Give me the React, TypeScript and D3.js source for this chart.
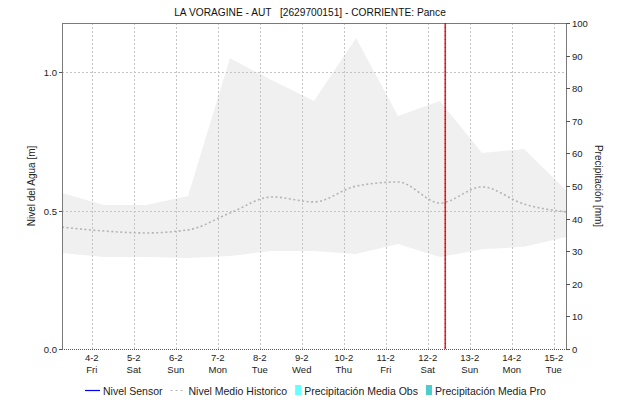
import React, { useEffect, useRef } from "react";
import * as d3 from "d3";

// Daily historical statistics (sampled at 07:00 each day)
const days = [
  "2022-02-03", "2022-02-04", "2022-02-05", "2022-02-06", "2022-02-07",
  "2022-02-08", "2022-02-09", "2022-02-10", "2022-02-11", "2022-02-12",
  "2022-02-13", "2022-02-14", "2022-02-15",
];
const nivelMaximo = [0.563, 0.52, 0.52, 0.552, 1.05, 0.97, 0.895, 1.123, 0.841, 0.895, 0.708, 0.722, 0.574];
const nivelMinimo = [0.347, 0.332, 0.332, 0.329, 0.336, 0.354, 0.354, 0.343, 0.379, 0.332, 0.36, 0.369, 0.404];
const nivelMedio = [0.44, 0.426, 0.419, 0.43, 0.491, 0.549, 0.531, 0.588, 0.603, 0.527, 0.585, 0.523, 0.495];

const tickDays = [
  "2022-02-04", "2022-02-05", "2022-02-06", "2022-02-07", "2022-02-08", "2022-02-09",
  "2022-02-10", "2022-02-11", "2022-02-12", "2022-02-13", "2022-02-14", "2022-02-15",
];
const levelTicks = [0, 0.5, 1.0];
const precipTicks = [0, 10, 20, 30, 40, 50, 60, 70, 80, 90, 100];
const ahora = "2022-02-12T10:00:00Z";

const title = "LA VORAGINE - AUT   [2629700151] - CORRIENTE: Pance";
const legendItems = [
  { label: "Nivel Sensor", kind: "line", color: "#0000ff" },
  { label: "Nivel Medio Historico", kind: "dots", color: "#b4b4b4" },
  { label: "Precipitación Media Obs", kind: "box", color: "#66ffff" },
  { label: "Precipitación Media Pro", kind: "box", color: "#4ccccc" },
];

const W = 618, H = 403;
const M = { left: 62, right: 566, top: 23, bottom: 349 };
const FONT = "'Liberation Sans', Arial, sans-serif";

export default function App() {
  const ref = useRef<SVGSVGElement | null>(null);

  useEffect(() => {
    const svg = d3.select(ref.current);
    svg.selectAll("*").remove();

    const t = (d: string) => new Date(d + "T07:00:00Z");
    const x = d3.scaleUtc().domain([t(days[0]), t(days[days.length - 1])]).range([M.left, M.right]);
    const y = d3.scaleLinear().domain([0, 1.177]).range([M.bottom, M.top]);
    const yP = d3.scaleLinear().domain([0, 100]).range([M.bottom, M.top]);

    const rows = days.map((d, i) => ({ date: t(d), max: nivelMaximo[i], min: nivelMinimo[i], mean: nivelMedio[i] }));

    // historical band
    svg.append("path")
      .datum(rows)
      .attr("fill", "#f0f0f0")
      .attr("d", d3.area<any>().x(d => x(d.date)).y0(d => y(d.min)).y1(d => y(d.max)));

    // grid
    const g = svg.append("g").attr("stroke", "#c4c4c4").attr("stroke-dasharray", "2,2").attr("stroke-width", 1);
    tickDays.forEach(d => {
      const xx = Math.round(x(new Date(d + "T00:00:00Z"))) + 0.5;
      g.append("line").attr("x1", xx).attr("x2", xx).attr("y1", M.top).attr("y2", M.bottom);
    });
    levelTicks.filter(v => v > 0).forEach(v => {
      const yy = Math.round(y(v)) + 0.5;
      g.append("line").attr("x1", M.left).attr("x2", M.right).attr("y1", yy).attr("y2", yy);
    });

    // mean line
    svg.append("path")
      .datum(rows)
      .attr("fill", "none")
      .attr("stroke", "#b4b4b4")
      .attr("stroke-width", 1.6)
      .attr("stroke-dasharray", "2,2.5")
      .attr("d", d3.line<any>().x(d => x(d.date)).y(d => y(d.mean)).curve(d3.curveMonotoneX));

    // frame
    const frame = svg.append("g").attr("stroke", "#7a7a7a").attr("fill", "none");
    frame.append("line").attr("x1", M.left + 0.5).attr("x2", M.left + 0.5).attr("y1", M.top).attr("y2", M.bottom);
    frame.append("line").attr("x1", M.right + 0.5).attr("x2", M.right + 0.5).attr("y1", M.top).attr("y2", M.bottom);
    frame.append("line").attr("x1", M.left).attr("x2", M.right).attr("y1", M.top + 0.5).attr("y2", M.top + 0.5);
    svg.append("line")
      .attr("x1", M.left).attr("x2", M.right + 1).attr("y1", M.bottom + 0.5).attr("y2", M.bottom + 0.5)
      .attr("stroke", "#555").attr("stroke-dasharray", "1,1");

    // current time marker
    const xa = x(new Date(ahora));
    svg.append("line").attr("x1", xa).attr("x2", xa).attr("y1", M.top).attr("y2", M.bottom)
      .attr("stroke", "#e8262b").attr("stroke-width", 1.6);
    svg.append("line").attr("x1", xa).attr("x2", xa).attr("y1", M.top).attr("y2", M.bottom)
      .attr("stroke", "#7a1010").attr("stroke-width", 0.8).attr("stroke-dasharray", "1,3");

    // left axis
    const la = svg.append("g").attr("font-family", FONT).attr("font-size", 9.5);
    levelTicks.forEach(v => {
      const yy = Math.round(y(v)) + 0.5;
      la.append("line").attr("x1", M.left - 3).attr("x2", M.left).attr("y1", yy).attr("y2", yy).attr("stroke", "#555");
      la.append("text").attr("x", M.left - 5).attr("y", yy).attr("dy", "0.35em").attr("text-anchor", "end")
        .attr("fill", "#222").text(d3.format(".1f")(v));
    });

    // right axis
    const ra = svg.append("g").attr("font-family", FONT).attr("font-size", 9.5);
    precipTicks.forEach(v => {
      const yy = Math.round(yP(v)) + 0.5;
      ra.append("line").attr("x1", M.right).attr("x2", M.right + 4).attr("y1", yy).attr("y2", yy).attr("stroke", "#555");
      ra.append("text").attr("x", M.right + 6).attr("y", yy).attr("dy", "0.35em").attr("fill", "#222").text(v);
    });

    // x tick labels
    const fmtDate = d3.utcFormat("%-d-%-m");
    const fmtDay = d3.utcFormat("%a");
    const xa2 = svg.append("g").attr("font-family", FONT).attr("font-size", 9.5).attr("fill", "#222").attr("text-anchor", "middle");
    tickDays.forEach(d => {
      const dt = new Date(d + "T00:00:00Z");
      const xx = x(dt);
      xa2.append("text").attr("x", xx).attr("y", 361).text(fmtDate(dt));
      xa2.append("text").attr("x", xx).attr("y", 373).text(fmtDay(dt));
    });

    // axis titles
    svg.append("text").attr("font-family", FONT).attr("font-size", 10).attr("fill", "#222")
      .attr("text-anchor", "middle")
      .attr("transform", `translate(35,${(M.top + M.bottom) / 2}) rotate(-90)`)
      .text("Nivel del Agua [m]");
    svg.append("text").attr("font-family", FONT).attr("font-size", 10).attr("fill", "#222")
      .attr("text-anchor", "middle")
      .attr("transform", `translate(595,${(M.top + M.bottom) / 2}) rotate(90)`)
      .text("Precipitación [mm]");

    // title
    svg.append("text").attr("x", 310).attr("y", 16).attr("text-anchor", "middle")
      .attr("font-family", FONT).attr("font-size", 10.2).attr("fill", "#111")
      .attr("xml:space", "preserve").style("white-space", "pre").text(title);

    // legend
    const lg = svg.append("g").attr("font-family", FONT).attr("font-size", 10.5).attr("fill", "#222");
    let lx = 85;
    const ly = 391;
    legendItems.forEach(it => {
      if (it.kind === "line") {
        lg.append("line").attr("x1", lx).attr("x2", lx + 15).attr("y1", ly - 0.5).attr("y2", ly - 0.5)
          .attr("stroke", it.color).attr("stroke-width", 1.2);
        lx += 18;
      } else if (it.kind === "dots") {
        lg.append("line").attr("x1", lx).attr("x2", lx + 15).attr("y1", ly - 0.5).attr("y2", ly - 0.5)
          .attr("stroke", it.color).attr("stroke-width", 1.2).attr("stroke-dasharray", "2,3");
        lx += 18;
      } else {
        lg.append("rect").attr("x", lx).attr("y", ly - 6).attr("width", 6).attr("height", 10).attr("fill", it.color);
        lx += 9;
      }
      const tx = lg.append("text").attr("x", lx).attr("y", ly).attr("dy", "0.35em").text(it.label);
      const w = (tx.node() as SVGTextElement).getComputedTextLength();
      lx += w + 8;
    });
  }, []);

  return (
    <svg ref={ref} width={W} height={H}
      style={{ position: "absolute", left: 0, top: 0, background: "#fff" }} />
  );
}
